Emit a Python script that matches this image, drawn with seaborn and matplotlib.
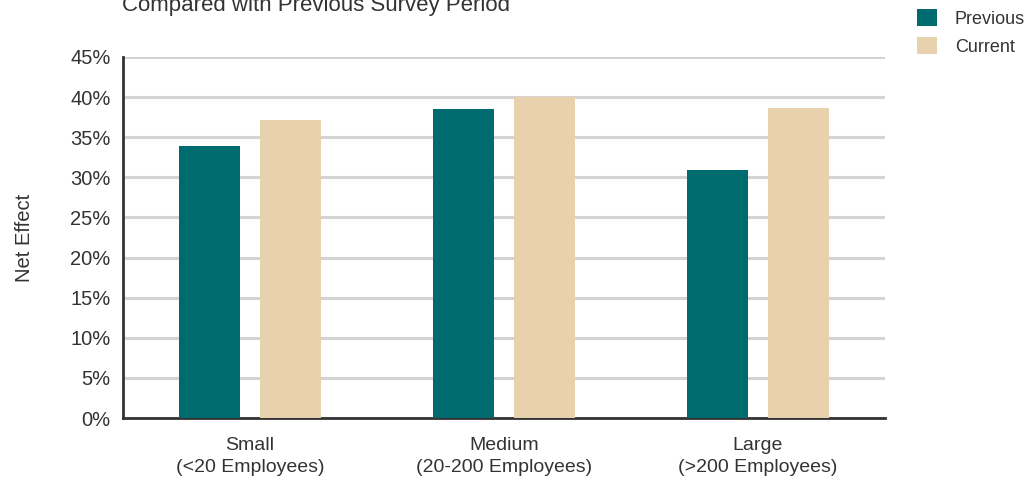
import numpy as np
import pandas as pd
import matplotlib
matplotlib.use("Agg")
import matplotlib.pyplot as plt
from matplotlib.ticker import FixedLocator, FuncFormatter
import seaborn as sns

categories = ["Small\n(<20 Employees)", "Medium\n(20-200 Employees)", "Large\n(>200 Employees)"]
periods = ["Previous", "Current"]
previous = [33.9, 38.5, 30.9]
current = [37.2, 40.0, 38.6]

df = pd.DataFrame({
    "category": categories * 2,
    "period": ["Previous"] * 3 + ["Current"] * 3,
    "value": previous + current,
})

sns.set_style("white")
plt.rcParams["font.family"] = ["Liberation Sans", "DejaVu Sans"]
txt = "#333333"

fig = plt.figure(figsize=(10.28, 4.78), dpi=100)
ax = fig.add_axes([123 / 1028, 1 - 418 / 478, (885 - 123) / 1028, (418 - 57) / 478])

sns.barplot(data=df, x="category", y="value", hue="period", hue_order=periods,
            palette=["#006B6E", "#E8D2AD"], width=0.638, gap=0.248,
            saturation=1, linewidth=0, ax=ax, zorder=3)

ax.set_ylim(0, 45)
ax.set_xlim(-0.5, 2.5)
ax.set_yticks(np.arange(0, 46, 5))
ax.yaxis.set_major_formatter(FuncFormatter(lambda v, p: f"{v:.0f}%"))
ax.yaxis.grid(True, color="#d3d3d3", linewidth=2.2, zorder=0)
ax.set_axisbelow(True)
ax.tick_params(axis="y", direction="in", length=5, width=1.2, color="#b0b0b0",
               labelsize=14.5, labelcolor=txt, pad=9)
ax.tick_params(axis="x", which="major", length=0, labelsize=14, labelcolor=txt, pad=14)
for lab in ax.get_xticklabels():
    lab.set_linespacing(1.35)
ax.xaxis.set_minor_locator(FixedLocator([0.5, 1.5, 2.5]))
ax.tick_params(axis="x", which="minor", direction="in", length=7, width=1.5, color="#333333")

for s in ["top", "right"]:
    ax.spines[s].set_visible(False)
for s in ["left", "bottom"]:
    ax.spines[s].set_color("#333333")
    ax.spines[s].set_linewidth(2)

ax.set_xlabel("")
ax.set_ylabel("Net Effect", fontsize=14.5, color=txt, labelpad=26)

handles, labels = ax.get_legend_handles_labels()
ax.get_legend().remove()
fig.legend(handles, labels, loc="upper left", bbox_to_anchor=(917 / 1028, 1 - 9 / 478),
           frameon=False, fontsize=13, handlelength=1.1, handleheight=1.1,
           labelspacing=0.5, handletextpad=1.0, borderpad=0, borderaxespad=0,
           labelcolor=txt)

fig.text(122 / 1028, 1 - 11 / 478, "Compared with Previous Survey Period",
         fontsize=16, color=txt, ha="left", va="baseline")

fig.savefig("out.png", dpi=100)
